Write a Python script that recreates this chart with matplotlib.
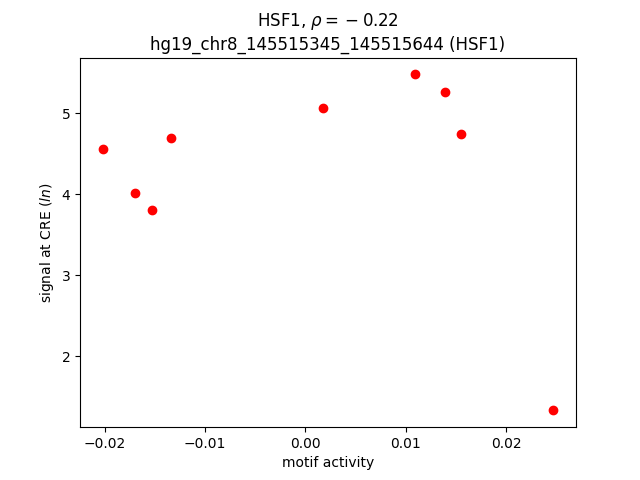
import matplotlib
matplotlib.use("Agg")
import matplotlib.pyplot as plt

motif_activity = [-0.0202, -0.0170, -0.01532, -0.01343, 0.00172, 0.01088, 0.01386, 0.01547, 0.02468]
signal = [4.556, 4.01, 3.80, 4.69, 5.07, 5.48, 5.26, 4.74, 1.33]

fig, ax = plt.subplots(figsize=(6.4, 4.8), dpi=100)
ax.scatter(motif_activity, signal, color="red")
ax.set_title("HSF1, $\\rho = {}-0.22$\nhg19_chr8_145515345_145515644 (HSF1)")
ax.set_xlabel("motif activity")
ax.set_ylabel("signal at CRE ($ln$)")
fig.savefig("out.png")
